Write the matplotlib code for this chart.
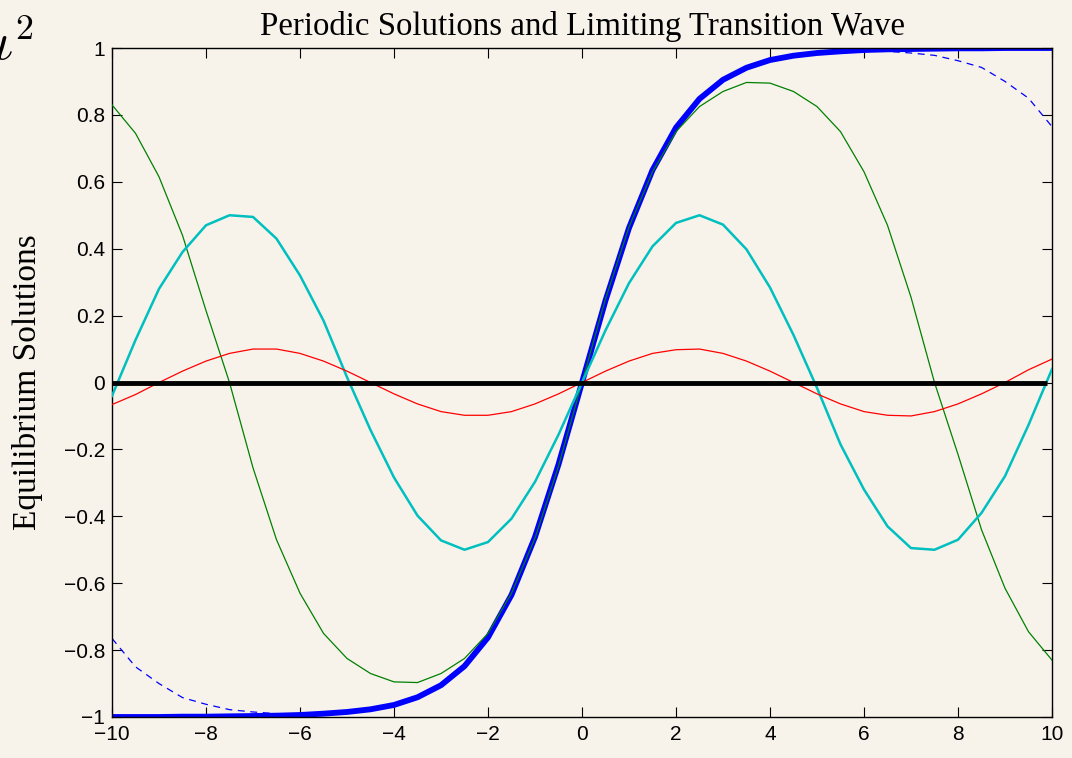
import matplotlib
matplotlib.use("Agg")
import matplotlib.pyplot as plt

# Sample grid shared by all solution curves
x = [-10.0, -9.5, -9.0, -8.5, -8.0, -7.5, -7.0, -6.5, -6.0, -5.5, -5.0,
     -4.5, -4.0, -3.5, -3.0, -2.5, -2.0, -1.5, -1.0, -0.5, 0.0,
     0.5, 1.0, 1.5, 2.0, 2.5, 3.0, 3.5, 4.0, 4.5, 5.0,
     5.5, 6.0, 6.5, 7.0, 7.5, 8.0, 8.5, 9.0, 9.5, 10.0]

# Limiting transition wave (heteroclinic front)
wave = [-1.0, -1.0, -1.0, -0.999, -0.999, -0.998, -0.997, -0.996, -0.994, -0.99, -0.985,
        -0.977, -0.964, -0.941, -0.905, -0.848, -0.762, -0.635, -0.462, -0.245, 0.0,
        0.245, 0.462, 0.635, 0.762, 0.848, 0.905, 0.941, 0.964, 0.977, 0.985,
        0.99, 0.994, 0.996, 0.997, 0.998, 0.999, 0.999, 1.0, 1.0, 1.0]

# Long-period solution close to the front
near_wave = [-0.765, -0.85, -0.90, -0.942, -0.962, -0.978, -0.985, -0.99, -0.99, -0.989, -0.985,
             -0.977, -0.964, -0.941, -0.905, -0.848, -0.762, -0.635, -0.462, -0.245, 0.0,
             0.245, 0.462, 0.635, 0.762, 0.848, 0.905, 0.941, 0.964, 0.977, 0.985,
             0.989, 0.99, 0.99, 0.985, 0.978, 0.962, 0.942, 0.90, 0.85, 0.765]

# Periodic solution, amplitude 0.9
green = [0.83, 0.745, 0.615, 0.44, 0.215, 0.0, -0.255, -0.47, -0.63, -0.75, -0.825,
         -0.87, -0.895, -0.897, -0.87, -0.825, -0.75, -0.63, -0.465, -0.25, 0.0,
         0.25, 0.465, 0.63, 0.75, 0.825, 0.87, 0.897, 0.895, 0.87, 0.825,
         0.75, 0.63, 0.47, 0.255, 0.0, -0.215, -0.44, -0.615, -0.745, -0.83]

# Periodic solution, amplitude 0.5
cyan = [-0.04, 0.127, 0.28, 0.39, 0.47, 0.5, 0.495, 0.43, 0.32, 0.185, 0.016,
        -0.142, -0.284, -0.398, -0.472, -0.5, -0.477, -0.407, -0.297, -0.156, 0.0,
        0.156, 0.297, 0.407, 0.477, 0.5, 0.472, 0.398, 0.284, 0.142, -0.016,
        -0.185, -0.32, -0.43, -0.495, -0.5, -0.47, -0.39, -0.28, -0.127, 0.04]

# Periodic solution, amplitude 0.1
red = [-0.066, -0.036, 0.0, 0.034, 0.064, 0.087, 0.1, 0.1, 0.087, 0.064, 0.034,
       0.0, -0.034, -0.064, -0.087, -0.098, -0.098, -0.087, -0.064, -0.034, 0.0,
       0.034, 0.064, 0.087, 0.098, 0.1, 0.087, 0.064, 0.034, 0.0, -0.034,
       -0.064, -0.087, -0.098, -0.1, -0.087, -0.064, -0.034, 0.0, 0.038, 0.07]

# Trivial equilibrium
zero_x = [-10.0, 9.9]
zero_y = [0.0, 0.0]

xticks = [-10, -8, -6, -4, -2, 0, 2, 4, 6, 8, 10]
yticks = [-1, -0.8, -0.6, -0.4, -0.2, 0, 0.2, 0.4, 0.6, 0.8, 1]
ytick_labels = ["\u22121", "\u22120.8", "\u22120.6", "\u22120.4", "\u22120.2", "0",
                "0.2", "0.4", "0.6", "0.8", "1"]
xtick_labels = ["\u221210", "\u22128", "\u22126", "\u22124", "\u22122", "0",
                "2", "4", "6", "8", "10"]

bg = "#f7f3eb"
plt.rcParams["mathtext.fontset"] = "cm"
plt.rcParams["lines.scale_dashes"] = False

fig = plt.figure(figsize=(10.72, 7.58), dpi=100, facecolor=bg)
ax = fig.add_axes([112 / 1072, 1 - 717 / 758, 940 / 1072, 669 / 758])
ax.set_facecolor(bg)

ax.plot(x, wave, color="#0000ff", lw=4.2, zorder=2, solid_joinstyle="round")
ax.plot(x, near_wave, color="#0000ff", lw=0.9, linestyle=(0, (5, 4)), zorder=2.1)
ax.plot(x, green, color="#008000", lw=0.9, zorder=3)
ax.plot(x, cyan, color="#00bfbf", lw=1.8, zorder=3)
ax.plot(x, red, color="#ff0000", lw=0.9, zorder=3)
ax.plot(zero_x, zero_y, color="black", lw=3.5, zorder=4, solid_capstyle="butt")

ax.set_xlim(-10, 10)
ax.set_ylim(-1, 1)
ax.set_xticks(xticks)
ax.set_xticklabels(xtick_labels)
ax.set_yticks(yticks)
ax.set_yticklabels(ytick_labels)
ax.tick_params(direction="in", length=7, width=0.8, top=True, right=True,
               labelsize=15, pad=5, colors="black")
ax.tick_params(axis="x", pad=6)
for lab in ax.get_xticklabels() + ax.get_yticklabels():
    lab.set_fontfamily("Liberation Sans")
for s in ax.spines.values():
    s.set_linewidth(1.0)

ax.set_title("Periodic Solutions and Limiting Transition Wave",
             fontfamily="Liberation Serif", fontsize=23.7, pad=9)
ax.set_ylabel("Equilibrium Solutions", fontfamily="Liberation Serif", fontsize=24)
ax.yaxis.set_label_coords(-0.073, 0.5)

fig.text(-0.006, 0.921, r"$\iota^2$", fontsize=37, ha="left", va="baseline")

fig.savefig("out.png", dpi=100, facecolor=bg)
